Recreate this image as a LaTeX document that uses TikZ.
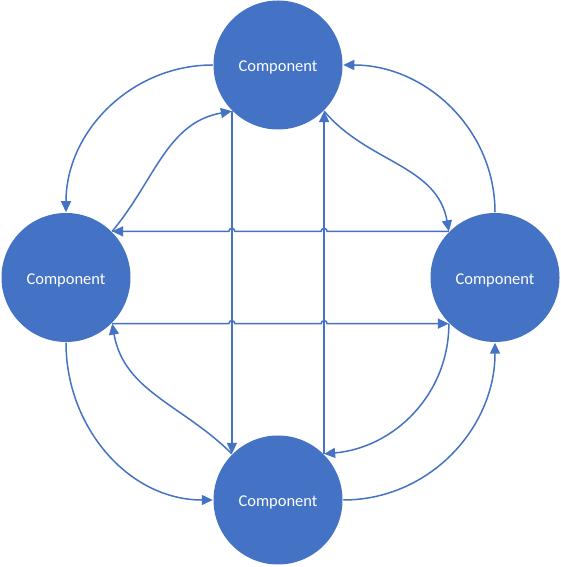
\documentclass[tikz,border=0pt]{standalone}
\usepackage{fontspec}
\setmainfont{Carlito}
\usetikzlibrary{arrows.meta}
\usetikzlibrary{calc}
\usepackage{xcolor}
\definecolor{compblue}{HTML}{4472C4}

\begin{document}
\begin{tikzpicture}[x=1pt,y=1pt,line width=1.5pt,color=compblue,
  >={Triangle[length=11pt,width=10pt]},
  comp/.style={circle,fill=compblue,minimum size=129pt,inner sep=0pt,
    text=white,text height=13.4pt,text depth=0pt,font=\fontsize{16.5}{20}\selectfont}]
\useasboundingbox (0,0) rectangle (561,567);
\node [comp] (top) at (278,502) {Component};
\node [comp] (left) at (66,289.5) {Component};
\node [comp] (right) at (495,289.5) {Component};
\node [comp] (bottom) at (278,67) {Component};

\draw [->] (top.west) to[out=180,in=90] (left.north);
\draw [->] (left.north east) to[out=50,in=190] (top.south west);
\draw [->] (top.south west) -- (bottom.north west);
\draw [->] (bottom.north east) -- (top.south east);
\draw [->] (top.south east) to[out=-50,in=100] (right.north west);
\draw [->] (right.north) to[out=90,in=0] (top.east);

% horizontal lines hop over the vertical ones
\draw [->] (right.north west)
  -- ($(top.south east |- right.north west)+(3pt,0)$) arc[start angle=0,end angle=180,radius=3pt]
  -- ($(top.south west |- right.north west)+(3pt,0)$) arc[start angle=0,end angle=180,radius=3pt]
  -- (left.north east);
\draw [->] (left.south east)
  -- ($(top.south west |- left.south east)+(-3pt,0)$) arc[start angle=180,end angle=0,radius=3pt]
  -- ($(top.south east |- left.south east)+(-3pt,0)$) arc[start angle=180,end angle=0,radius=3pt]
  -- (right.south west);

\draw [->] (bottom.north west) to[out=135,in=-80] (left.south east);
\draw [->] (left.south) to[out=-90,in=180] (bottom.west);
\draw [->] (right.south west) to[out=-90,in=5] (bottom.north east);
\draw [->] (bottom.east) to[out=0,in=-90] (right.south);
\end{tikzpicture}
\end{document}
